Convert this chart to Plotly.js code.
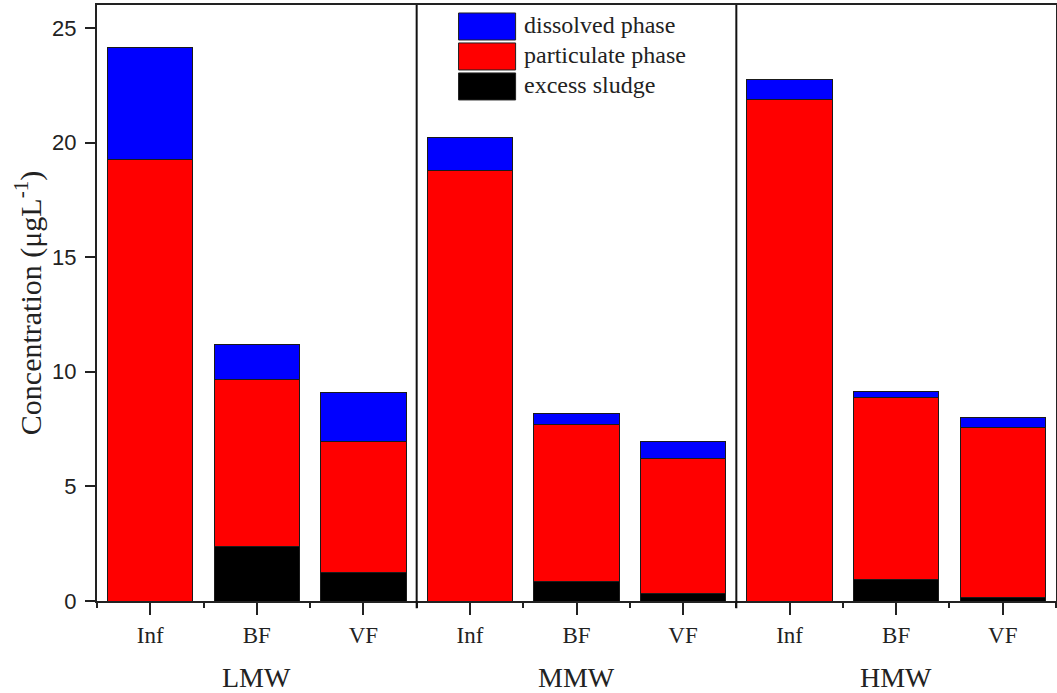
<!DOCTYPE html>
<html>
<head>
<meta charset="utf-8">
<script src="https://cdn.plot.ly/plotly-3.0.1.min.js"></script>
<style>html,body{margin:0;padding:0;background:#fff;}#chart{width:1057px;height:693px;}</style>
</head>
<body>
<div id="chart"></div>
<script>
// Data (segment heights, µg/L)
const groups = ["LMW", "MMW", "HMW"];
const stages = ["Inf", "BF", "VF"];
const seriesNames = ["dissolved phase", "particulate phase", "excess sludge"];
const excessSludge = [0, 2.39, 1.23, 0, 0.86, 0.31, 0, 0.94, 0.17];
const particulatePhase = [19.25, 7.27, 5.72, 18.77, 6.86, 5.89, 21.86, 7.93, 7.39];
const dissolvedPhase = [4.88, 1.52, 2.14, 1.43, 0.48, 0.74, 0.87, 0.26, 0.44];
const yTicks = [0, 5, 10, 15, 20, 25];

const colors = {"dissolved phase": "#0000ff", "particulate phase": "#ff0000", "excess sludge": "#000000"};

// build category labels and positions
const tickText = [];
const groupOf = [];
groups.forEach(g => stages.forEach(s => { tickText.push(s); groupOf.push(g); }));
const xPos = tickText.map((_, i) => i);

const serif = "Liberation Serif, Times New Roman, serif";
const sans = "Liberation Sans, Arial, sans-serif";

function barTrace(name, vals) {
  return {
    type: "bar", name: name, x: xPos, y: vals, width: 0.8,
    marker: {color: colors[name], line: {color: "#1a1a1a", width: 1}},
    showlegend: false, hoverinfo: "x+y+name"
  };
}
const data = [
  barTrace("excess sludge", excessSludge),
  barTrace("particulate phase", particulatePhase),
  barTrace("dissolved phase", dissolvedPhase)
];

const shapes = [];
const annotations = [];
// group separators
for (let gi = 1; gi < groups.length; gi++) {
  const xb = gi * stages.length - 0.5;
  shapes.push({type: "line", xref: "x", yref: "paper", x0: xb, x1: xb, y0: -0.012, y1: 1,
    line: {color: "#111", width: 2}});
}
// group labels
groups.forEach((g, gi) => {
  annotations.push({xref: "x", yref: "paper", x: gi * stages.length + (stages.length - 1) / 2, y: -0.128,
    text: g, showarrow: false, xanchor: "center", yanchor: "middle",
    font: {family: serif, size: 28, color: "#222"}});
});
// custom legend with large swatches
const legX0 = 0.377, legX1 = 0.4365, legTextX = 0.4427;
const legTop = 0.9866, legH = 0.0453, legGap = 0.0050;
seriesNames.forEach((n, i) => {
  const top = legTop - i * (legH + legGap);
  shapes.push({type: "rect", xref: "paper", yref: "paper", x0: legX0, x1: legX1, y0: top - legH, y1: top,
    fillcolor: colors[n], line: {color: "#222", width: 1}});
  annotations.push({xref: "paper", yref: "paper", x: legTextX, y: top - legH / 2 + 0.003, text: n,
    showarrow: false, xanchor: "left", yanchor: "middle",
    font: {family: serif, size: 24, color: "#222"}});
});

const layout = {
  width: 1057, height: 693,
  margin: {l: 97, r: 1, t: 5, b: 92, pad: 0},
  paper_bgcolor: "#fff", plot_bgcolor: "#fff",
  barmode: "stack", bargap: 0.2,
  showlegend: false,
  xaxis: {
    range: [-0.5, xPos.length - 0.5], tickmode: "array", tickvals: xPos, ticktext: tickText,
    ticks: "outside", ticklen: 12, tickwidth: 2, tickcolor: "#222",
    minor: {tickmode: "linear", tick0: -0.5, dtick: 1, ticks: "outside", ticklen: 5, tickwidth: 2, tickcolor: "#222"},
    showline: true, linecolor: "#222", linewidth: 2, mirror: true,
    showgrid: false, zeroline: false, fixedrange: true,
    tickfont: {family: serif, size: 23, color: "#222"}, ticklabelstandoff: 0
  },
  yaxis: {
    range: [0, 26], tickmode: "array", tickvals: yTicks, ticktext: yTicks.map(String),
    ticks: "outside", ticklen: 10, tickwidth: 2, tickcolor: "#222",
    showline: true, linecolor: "#222", linewidth: 2, mirror: true,
    showgrid: false, zeroline: false, fixedrange: true,
    tickfont: {family: sans, size: 22, color: "#222"}, ticklabelstandoff: 4,
    title: {text: "Concentration (μgL<sup>-1</sup>)", font: {family: serif, size: 30, color: "#222"}, standoff: 2}
  },
  shapes: shapes,
  annotations: annotations
};

Plotly.newPlot("chart", data, layout, {displayModeBar: false, staticPlot: true});
</script>
</body>
</html>
